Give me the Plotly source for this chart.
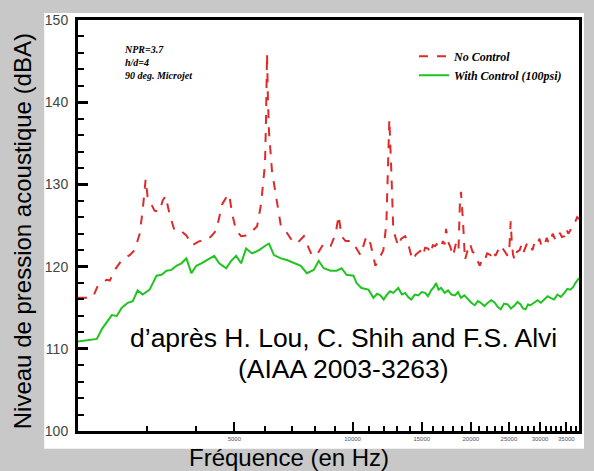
import plotly.graph_objects as go

# ---------------- data ----------------
freq_no_control = [
    2000, 2143, 2183, 2247, 2368, 2410, 2482, 2585, 2707, 2788, 2871, 2921, 2973, 3007,
    3132, 3226, 3283, 3341, 3420, 3520, 3666, 3775, 3910, 4073, 4243, 4368, 4497, 4657,
    4795, 4851, 4937, 5053, 5203, 5389, 5547, 5713, 5848, 5917, 5985, 6021, 6056, 6090,
    6127, 6235, 6417, 6570, 6764, 7005, 7213, 7514, 7647, 7872, 8103, 8440, 8792, 9054,
    9214, 9376, 9597, 9938, 10055, 10472, 10845, 11102, 11431, 11768, 11976, 12188, 12300,
    12403, 12548, 12694, 13070, 13300, 13614, 13855, 14050, 14266, 14500, 14860, 15100,
    15300, 15568, 15800, 16000, 16218, 16500, 16750, 16993, 17150, 17294, 17500, 17702,
    18012, 18330, 18600, 18765, 18874, 19095, 19320, 19600, 19894, 20200, 20470, 20800,
    21078, 21400, 21701, 22000, 22473, 22800, 23100, 23412, 23800, 24105, 24500, 24820,
    25050, 25259, 25405, 25600, 25853, 26200, 26620, 26900, 27200, 27563, 27900, 28379,
    28700, 29100, 29562, 29900, 30300, 30794, 31200, 31600, 31891, 32300, 32800, 33220,
    33700, 34100, 34604, 35000, 35400, 35835, 36300, 36895, 37300, 37700,
]
spl_no_control = [
    116.2, 116.2, 116.3, 117.7, 118.4, 118.3, 119.6, 120.8, 121.4, 122.0, 124.0, 126.8, 130.6, 128.5,
    126.8, 126.7, 128.0, 128.6, 126.4, 124.4, 124.3, 123.8, 122.6, 123.1, 123.2, 123.7, 124.4, 127.6,
    128.6, 128.8, 126.4, 124.4, 123.7, 123.8, 124.3, 124.9, 127.6, 129.7, 132.5, 138.0, 145.9, 140.0,
    136.4, 131.6, 127.6, 124.9, 124.3, 123.2, 122.8, 123.7, 122.8, 121.4, 121.4, 122.8, 122.5, 124.0,
    126.2, 123.7, 123.1, 123.1, 122.8, 121.4, 123.7, 122.8, 120.1, 121.4, 122.0, 125.2, 131.0,
    137.9, 131.6, 124.4, 122.5, 123.4, 123.7, 122.8, 121.6, 120.8, 121.5, 121.9, 121.3,
    122.3, 122.2, 121.6, 122.6, 122.5, 122.9, 122.4, 123.1, 122.7, 124.6, 123.0, 122.5,
    121.3, 122.8, 122.0, 128.0, 129.1, 125.6, 120.8, 121.9, 122.8, 121.8, 121.6, 120.7,
    120.1, 121.0, 120.8, 121.6, 121.4, 122.0, 121.3, 121.9, 122.6, 122.2, 121.7, 121.3,
    122.0, 125.5, 123.2, 121.5, 120.8, 121.8, 122.0, 122.6, 121.7, 122.3, 123.0, 122.6,
    122.0, 123.1, 122.8, 123.4, 122.4, 122.6, 123.5, 122.8, 123.2, 124.0, 123.3, 123.2,
    124.1, 123.6, 123.7, 124.6, 124.0, 124.4, 125.2, 125.5, 126.0, 125.8,
]

freq_with_control = [
    2000, 2143, 2234, 2300, 2368, 2438, 2510, 2585, 2677, 2756, 2837, 2921, 3043, 3170,
    3264, 3360, 3459, 3561, 3666, 3775, 3887, 4002, 4121, 4268, 4445, 4577, 4767, 4908,
    5053, 5203, 5357, 5547, 5780, 6021, 6127, 6306, 6570, 6803, 7088, 7384, 7647, 7962,
    8198, 8440, 8792, 9107, 9376, 9652, 10055, 10232, 10533, 10972, 11298, 11550, 11768,
    12000, 12188, 12450, 12694, 13070, 13350, 13614, 13850, 14099, 14400, 14687, 15000,
    15296, 15550, 15842, 16100, 16312, 16550, 16797, 17150, 17498, 17850, 18224, 18550,
    18874, 19250, 19661, 20050, 20470, 20850, 21200, 21650, 22084, 22550, 23006, 23400,
    23824, 24300, 24820, 25300, 25853, 26300, 26773, 27150, 27563, 27950, 28379, 28950,
    29562, 30150, 30794, 31350, 31891, 32550, 33220, 33900, 34604, 35200, 35835, 36400,
    36895, 37300, 37700,
]
spl_with_control = [
    110.9, 111.1, 111.2, 112.4, 113.2, 114.1, 114.0, 115.0, 115.6, 115.8, 117.1, 116.6, 117.2, 118.9,
    119.0, 119.5, 119.6, 120.1, 120.4, 121.0, 119.2, 120.1, 120.4, 120.8, 121.3, 120.4, 119.8, 120.7,
    121.3, 120.4, 122.2, 121.6, 122.0, 122.6, 122.8, 121.4, 121.0, 120.8, 120.4, 120.1, 119.2, 119.6,
    120.7, 119.8, 119.5, 119.5, 119.8, 119.0, 118.9, 118.0, 117.4, 117.2, 116.2, 116.7, 116.5,
    116.0, 116.5, 117.0, 116.8, 117.4, 116.6, 116.8, 116.3, 116.0, 116.6, 116.5, 116.9,
    116.8, 116.4, 117.1, 117.5, 118.0, 117.2, 117.4, 116.8, 117.1, 116.6, 116.5, 116.9,
    116.2, 116.5, 116.0, 115.6, 115.3, 115.8, 115.6, 115.2, 115.6, 115.9, 115.6, 115.1,
    114.8, 115.5, 115.4, 114.9, 115.3, 115.7, 115.4, 114.9, 114.8, 115.4, 115.3, 115.6,
    115.9, 115.6, 116.0, 116.4, 116.2, 116.0, 116.6, 116.3, 116.8, 117.3, 117.2, 117.5,
    118.0, 118.3, 118.6,
]

y_major_ticks = [100, 110, 120, 130, 140, 150]
x_major_ticks = [5000, 10000, 15000, 20000, 25000, 30000, 35000]
x_tick_labels = ["5000", "10000", "15000", "20000", "25000", "30000", "35000"]
x_minor_ticks = [f for f in range(3000, 38000, 1000) if f % 5000 != 0]

series_names = ["No Control", "With Control (100psi)"]
info_lines = ["NPR=3.7", "h/d=4", "90 deg. Microjet"]
credit_lines = ["d’après H. Lou, C. Shih and F.S. Alvi", "(AIAA 2003-3263)"]

# ---------------- layout helpers ----------------
W, H = 594, 471
ML, MR, MT, MB = 78, 12, 14, 40
PW, PH = W - ML - MR, H - MT - MB


def px(x):
    return (x - ML) / PW


def py(y):
    return (H - MB - y) / PH


fig = go.Figure()
fig.add_trace(go.Scatter(
    x=freq_no_control, y=spl_no_control, mode="lines",
    name="<b><i>" + series_names[0] + "</i></b>",
    line=dict(color="#dd2a2a", width=2, dash="dash"),
))
fig.add_trace(go.Scatter(
    x=freq_with_control, y=spl_with_control, mode="lines",
    name="<b><i>" + series_names[1] + "</i></b>",
    line=dict(color="#1fc41f", width=2),
))

fig.update_layout(
    width=W, height=H,
    margin=dict(l=ML, r=MR, t=MT, b=MB, pad=0),
    paper_bgcolor="#c8c8c8",
    plot_bgcolor="white",
    showlegend=True,
    legend=dict(
        x=px(416), y=py(36), xanchor="left", yanchor="top",
        bgcolor="rgba(0,0,0,0)", borderwidth=0,
        font=dict(family="Liberation Serif", size=12, color="black"),
        tracegroupgap=0,
    ),
    shapes=[dict(
        type="rect", xref="paper", yref="paper", layer="below",
        x0=px(44), x1=px(587), y0=py(449), y1=py(7),
        fillcolor="white", line=dict(width=0),
    )],
)

fig.update_xaxes(
    type="log", range=[3.30103, 4.5763],
    showline=True, linecolor="black", linewidth=3, mirror=True,
    showgrid=False, zeroline=False,
    tickmode="array", tickvals=x_major_ticks, ticktext=x_tick_labels,
    ticks="inside", ticklen=9, tickwidth=2, tickcolor="black",
    tickfont=dict(family="Liberation Sans", size=6, color="#555555"),
    minor=dict(tickmode="array", tickvals=x_minor_ticks, ticks="inside",
               ticklen=5, tickwidth=2, tickcolor="black", showgrid=False),
)
fig.update_yaxes(
    range=[100, 150],
    showline=True, linecolor="black", linewidth=3, mirror=True,
    showgrid=False, zeroline=False,
    tickmode="array", tickvals=y_major_ticks,
    ticks="inside", ticklen=10, tickwidth=3, tickcolor="black",
    ticklabelstandoff=4,
    tickfont=dict(family="Liberation Sans", size=14, color="#444444"),
    minor=dict(dtick=2, ticks="inside", ticklen=6, tickwidth=2,
               tickcolor="black", showgrid=False),
)

annotations = [
    dict(text="Niveau de pression acoustique (dBA)", x=px(23), y=py(228),
         textangle=-90, font=dict(family="Liberation Sans", size=24, color="black")),
    dict(text="Fréquence (en Hz)", x=px(290), y=py(458),
         font=dict(family="Liberation Sans", size=24, color="black")),
    dict(text=credit_lines[0], x=px(345), y=py(337),
         font=dict(family="Liberation Sans", size=26.5, color="black")),
    dict(text=credit_lines[1], x=px(345), y=py(368),
         font=dict(family="Liberation Sans", size=26.5, color="black")),
    dict(text="<br>".join("<b><i>" + s + "</i></b>" for s in info_lines),
         x=px(122), y=py(36), xanchor="left", yanchor="top", align="left",
         font=dict(family="Liberation Serif", size=10, color="black")),
]
for a in annotations:
    a.update(xref="paper", yref="paper", showarrow=False)
    a.setdefault("xanchor", "center")
    a.setdefault("yanchor", "middle")
fig.update_layout(annotations=annotations)

fig.write_html("out.html")
